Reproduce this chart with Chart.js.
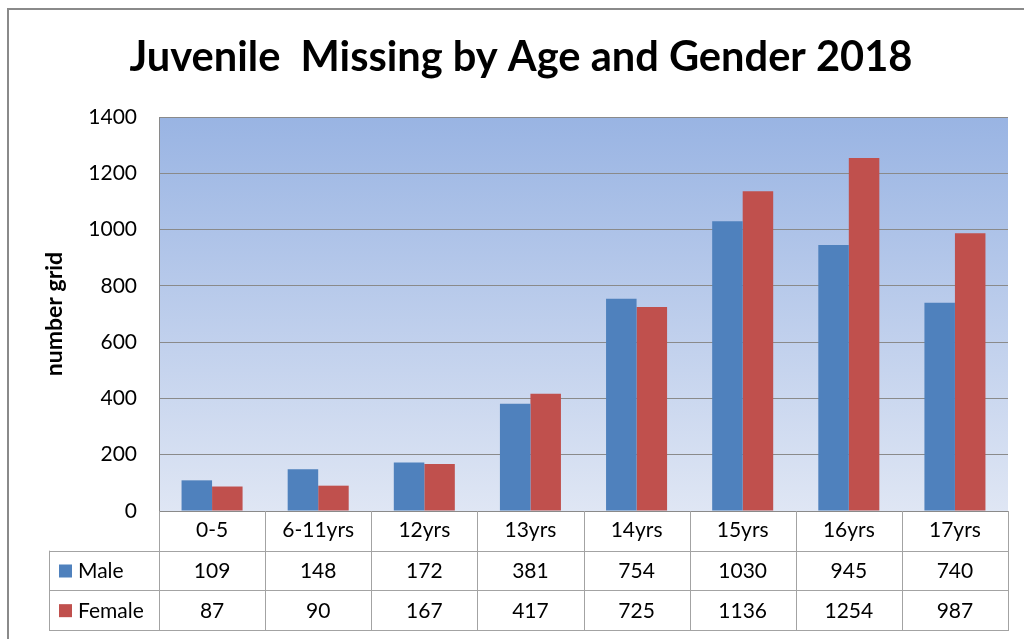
<!DOCTYPE html>
<html>
<head>
<meta charset="utf-8">
<script src="https://cdn.jsdelivr.net/npm/chart.js@4/dist/chart.umd.min.js"></script>
<style>
  html, body { margin: 0; padding: 0; background: #ffffff; }
  #wrap { width: 1024px; height: 639px; }
</style>
</head>
<body>
<div id="wrap"><canvas id="c" width="1024" height="639"></canvas></div>
<script>
const titleText = 'Juvenile  Missing by Age and Gender 2018';
const categories = ['0-5', '6-11yrs', '12yrs', '13yrs', '14yrs', '15yrs', '16yrs', '17yrs'];
const seriesNames = ['Male', 'Female'];
const maleValues = [109, 148, 172, 381, 754, 1030, 945, 740];
const femaleValues = [87, 90, 167, 417, 725, 1136, 1254, 987];
const yTicks = [0, 200, 400, 600, 800, 1000, 1200, 1400];
const yAxisTitle = 'number grid';

const COLORS = ['#4f81bd', '#c0504d'];
const FONT = 'Lato, "Open Sans", sans-serif';

const bgPlugin = {
  id: 'bgPlugin',
  beforeDraw(chart) {
    const ctx = chart.ctx;
    const a = chart.chartArea;
    ctx.save();
    ctx.fillStyle = '#ffffff';
    ctx.fillRect(0, 0, chart.width, chart.height);
    const g = ctx.createLinearGradient(0, a.top, 0, a.bottom);
    g.addColorStop(0, '#99b4e3');
    g.addColorStop(1, '#dfe6f4');
    ctx.fillStyle = g;
    ctx.fillRect(a.left, a.top, a.right - a.left, a.bottom - a.top);
    // outer chart border
    ctx.strokeStyle = '#8a8a8a';
    ctx.lineWidth = 2;
    ctx.beginPath();
    ctx.moveTo(8, chart.height + 5);
    ctx.lineTo(8, 9);
    ctx.lineTo(chart.width + 5, 9);
    ctx.stroke();
    ctx.restore();
  }
};

const tablePlugin = {
  id: 'tablePlugin',
  afterDraw(chart) {
    const ctx = chart.ctx;
    const a = chart.chartArea;
    const xs = chart.scales.x;
    const n = categories.length;
    const step = xs.getPixelForValue(1) - xs.getPixelForValue(0);
    const rowH = (xs.bottom - xs.top) / 3;
    const y0 = xs.top, y1 = y0 + rowH, y2 = y1 + rowH, y3 = y2 + rowH;
    const tableLeft = 49;
    ctx.save();
    ctx.strokeStyle = '#a3a3a3';
    ctx.lineWidth = 1;
    ctx.beginPath();
    // vertical lines at category boundaries
    for (let i = 0; i <= n; i++) {
      const x = Math.round(xs.getPixelForValue(0) - step / 2 + i * step) + 0.5;
      ctx.moveTo(x, y0);
      ctx.lineTo(x, y3);
    }
    // left column
    ctx.moveTo(tableLeft + 0.5, y1);
    ctx.lineTo(tableLeft + 0.5, y3);
    [y1, y2, y3].forEach(y => {
      const yy = Math.round(y) + 0.5;
      ctx.moveTo(tableLeft, yy);
      ctx.lineTo(a.right + 1, yy);
    });
    ctx.stroke();

    // series rows
    const series = [maleValues, femaleValues];
    ctx.font = '21px ' + FONT;
    ctx.textBaseline = 'middle';
    series.forEach((vals, r) => {
      const cy = (r === 0 ? (y1 + y2) / 2 : (y2 + y3) / 2);
      ctx.fillStyle = COLORS[r];
      ctx.fillRect(tableLeft + 10, cy - 6, 13, 13);
      ctx.fillStyle = '#000000';
      ctx.textAlign = 'left';
      ctx.fillText(seriesNames[r], tableLeft + 29, cy + 1);
      ctx.textAlign = 'center';
      vals.forEach((v, i) => {
        ctx.fillText(String(v), xs.getPixelForValue(i), cy + 1);
      });
    });
    ctx.restore();
  }
};

new Chart(document.getElementById('c'), {
  type: 'bar',
  data: {
    labels: categories,
    datasets: [
      { label: seriesNames[0], data: maleValues, backgroundColor: COLORS[0], borderWidth: 0 },
      { label: seriesNames[1], data: femaleValues, backgroundColor: COLORS[1], borderWidth: 0 }
    ]
  },
  options: {
    responsive: false,
    devicePixelRatio: 1,
    animation: false,
    layout: { padding: { top: 29, right: 16, bottom: 9, left: 34 } },
    datasets: { bar: { categoryPercentage: 0.575, barPercentage: 1.0 } },
    plugins: {
      legend: { display: false },
      tooltip: { enabled: false },
      title: {
        display: true,
        text: titleText,
        color: '#000000',
        font: { family: FONT, size: 41.6, weight: 'bold', lineHeight: 1.2 },
        padding: { top: 4, bottom: 34.1 }
      }
    },
    scales: {
      x: {
        grid: { display: false, tickLength: 0 },
        border: { display: true, color: '#8a8a8a', width: 1 },
        ticks: { color: '#000000', font: { family: FONT, size: 21 }, padding: 7, maxRotation: 0, autoSkip: false },
        afterFit(scale) { scale.height = 119; }
      },
      y: {
        min: 0,
        max: 1400,
        afterBuildTicks(scale) { scale.ticks = yTicks.map(v => ({ value: v })); },
        grid: { color: '#8a8a8a', drawTicks: false, lineWidth: 1 },
        border: { display: true, color: '#8a8a8a', width: 1 },
        ticks: { color: '#000000', font: { family: FONT, size: 21 }, padding: 22, callback: v => String(v) },
        title: {
          display: true,
          text: yAxisTitle,
          color: '#000000',
          font: { family: FONT, size: 23, weight: 'bold', lineHeight: 1.2 },
          padding: { top: 6.5, bottom: 0 }
        },
        afterFit(scale) { scale.width = 125; }
      }
    }
  },
  plugins: [bgPlugin, tablePlugin]
});
</script>
</body>
</html>
